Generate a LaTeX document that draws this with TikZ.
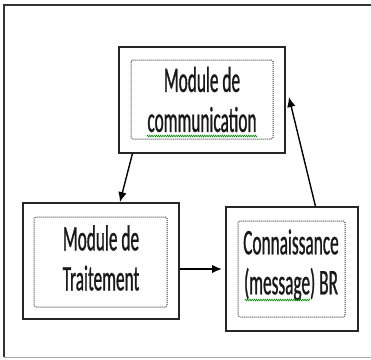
\documentclass[tikz,border=0pt]{standalone}
\usepackage{fontspec}
\setmainfont{Carlito}[FakeStretch=0.48,FakeBold=0.8]
\usetikzlibrary{arrows.meta,calc,decorations.pathmorphing}

\begin{document}
\begin{tikzpicture}[x=1pt,y=-1pt,
    outbox/.style={draw=black!85,line width=1.8pt,inner sep=0pt},
    inbox/.style={draw=black!80,dash pattern=on 1pt off 1pt,line width=1pt,
      rounded corners=1.5pt,inner sep=0pt},
    txt/.style={inner sep=0pt,align=center,text=black!90,
      font=\fontsize{36}{40}\selectfont},
    flow/.style={line width=1.4pt,-{Latex[length=10pt,width=8.5pt]}},
    squiggle/.style={green!55!black,line width=0.6pt,decorate,
      decoration={zigzag,segment length=2.2pt,amplitude=0.9pt}}]
        \useasboundingbox (0,0) rectangle (371,359);

        % frame around the figure
        \draw[black!80,line width=1.6pt] (371,5) -- (4,5) -- (4,357);
        \draw[black!35,line width=0.8pt] (4,357) -- (371,357);

        % the three modules
        \node[outbox,minimum width=166pt,minimum height=106pt] (comm) at (202,100) {};
        \node[inbox,minimum width=142pt,minimum height=79pt] (commIn) at (202,99.5) {};
        \node[txt] (commTxt) at (202,99.5) {Module de\\communication};

        \node[outbox,minimum width=156pt,minimum height=116pt] (trait) at (101,261) {};
        \node[inbox,minimum width=133pt,minimum height=90pt] (traitIn) at (100.5,262) {};
        \node[txt] (traitTxt) at (101,258) {Module de\\Traitement};

        \node[outbox,minimum width=132pt,minimum height=124pt] (conn) at (292,269) {};
        \node[inbox,minimum width=107pt,minimum height=96pt] (connIn) at (291.5,269) {};
        \node[txt] (connTxt) at (291,265) {Connaissance\\(message) BR};

        % spelling marks
        \draw[squiggle] (147,136) -- (257,136);
        \draw[squiggle] (245,300) -- (310,300);

        % links
        \draw[flow] ($(comm.south west)!0.085!(comm.south east)$)
          -- ($(trait.north west)!0.62!(trait.north east)$);
        \draw[flow,line width=1.8pt,shorten >=3pt] (trait.east |- conn.west) -- (conn.west);
        \draw[flow] ($(conn.north west)!0.675!(conn.north east)$)
          -- ([shift={(3pt,3pt)}]comm.east);
\end{tikzpicture}
\end{document}
